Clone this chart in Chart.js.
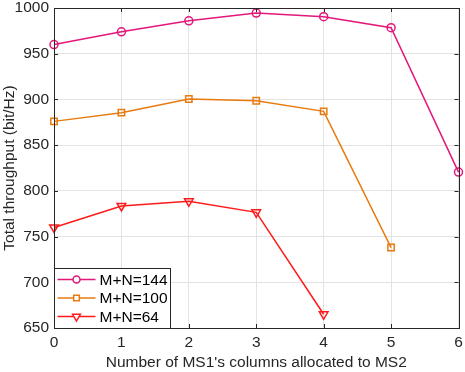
<!DOCTYPE html>
<html>
<head>
<meta charset="utf-8">
<script src="https://cdn.jsdelivr.net/npm/chart.js@4"></script>
<style>
  html, body { margin: 0; padding: 0; background: #fff; }
  #wrap { width: 465px; height: 372px; }
</style>
</head>
<body>
<div id="wrap"><canvas id="chart" width="465" height="372"></canvas></div>
<script>
// datos
const columnas = [0, 1, 2, 3, 4, 5, 6];
const serie144 = [960, 974, 986, 994.5, 990.5, 978.5, 820.5];
const serie100 = [876, 885.5, 900.5, 898.5, 887, 738];
const serie64 = [760, 783.5, 788.5, 776.5, 665];
const etiquetas = ['M+N=144', 'M+N=100', 'M+N=64'];
const yTicks = [650, 700, 750, 800, 850, 900, 950, 1000];

const fuente = "'Liberation Sans', Arial, sans-serif";
const tam = 15.5;

function puntos(vals) {
    return vals.map((v, i) => ({x: columnas[i], y: v}));
}

// caja, ticks hacia adentro y leyenda interna
const cajaPlugin = {
    id: 'caja',
    afterDatasetsDraw(chart) {
        const ctx = chart.ctx;
        const a = chart.chartArea;
        const xs = chart.scales.x, ys = chart.scales.y;
        ctx.save();
        ctx.strokeStyle = '#262626';
        ctx.lineWidth = 1;
        ctx.beginPath();
        xs.ticks.forEach(t => {
            const px = Math.round(xs.getPixelForValue(t.value)) + 0.5;
            ctx.moveTo(px, a.bottom); ctx.lineTo(px, a.bottom - 4);
            ctx.moveTo(px, a.top); ctx.lineTo(px, a.top + 4);
        });
        ys.ticks.forEach(t => {
            const py = Math.round(ys.getPixelForValue(t.value)) + 0.5;
            ctx.moveTo(a.left, py); ctx.lineTo(a.left + 4, py);
            ctx.moveTo(a.right, py); ctx.lineTo(a.right - 4, py);
        });
        ctx.stroke();
        ctx.strokeRect(Math.round(a.left) + 0.5, Math.round(a.top) + 0.5,
            Math.round(a.right - a.left), Math.round(a.bottom - a.top));

        // leyenda
        const lx = Math.round(a.left) + 0.5, lw = 116, lh = 60;
        const ly = Math.round(a.bottom) - lh + 0.5;
        ctx.fillStyle = '#fff';
        ctx.fillRect(lx, ly, lw, lh);
        ctx.strokeRect(lx, ly, lw, lh);
        chart.data.datasets.forEach((ds, i) => {
            const cy = ly + 11 + i * 18.5;
            ctx.strokeStyle = ds.borderColor;
            ctx.lineWidth = 1.5;
            ctx.beginPath();
            ctx.moveTo(lx + 3, cy); ctx.lineTo(lx + 41, cy);
            ctx.stroke();
            ctx.fillStyle = '#fff';
            Chart.helpers.drawPoint(ctx, {
                pointStyle: ds.pointStyle, radius: ds.pointRadius - 0.5,
                rotation: ds.pointRotation || 0, borderWidth: 1.5
            }, lx + 22, cy);
            ctx.fillStyle = '#000';
            ctx.font = tam + 'px ' + fuente;
            ctx.textBaseline = 'middle';
            ctx.fillText(ds.label, lx + 45, cy + 1);
        });
        ctx.restore();
    }
};

const ctx = document.getElementById('chart').getContext('2d');
new Chart(ctx, {
    type: 'line',
    data: {
        datasets: [
            {label: etiquetas[0], data: puntos(serie144), borderColor: '#e3177a',
                pointStyle: 'circle', pointRadius: 4, pointBorderColor: '#e3177a'},
            {label: etiquetas[1], data: puntos(serie100), borderColor: '#e87b10',
                pointStyle: 'rect', pointRadius: 4.5, pointBorderColor: '#e87b10'},
            {label: etiquetas[2], data: puntos(serie64), borderColor: '#ff1a1a',
                pointStyle: 'triangle', pointRotation: 180, pointRadius: 5, pointBorderColor: '#ff1a1a'}
        ].map(d => Object.assign(d, {
            borderWidth: 1.5, pointBorderWidth: 1.5,
            pointBackgroundColor: 'rgba(0,0,0,0)', backgroundColor: 'rgba(0,0,0,0)',
            tension: 0, clip: false
        }))
    },
    options: {
        responsive: false,
        animation: false,
        layout: {padding: {left: 0, right: 0, top: 0, bottom: 0}},
        plugins: {legend: {display: false}, tooltip: {enabled: false}},
        scales: {
            x: {
                type: 'linear', min: 0, max: 6,
                ticks: {stepSize: 1, color: '#262626', font: {size: tam, family: fuente}, padding: 5},
                grid: {color: '#e3e3e3', drawTicks: false},
                border: {display: false},
                title: {display: true, text: "Number of MS1's columns allocated to MS2",
                    color: '#262626', font: {size: tam, family: fuente}, padding: {top: 2, bottom: 0}},
                afterFit(s) { s.height = 44; s.paddingLeft = 0; s.paddingRight = 4; }
            },
            y: {
                type: 'linear', min: 650, max: 1000,
                afterBuildTicks(s) { s.ticks = yTicks.map(v => ({value: v})); },
                ticks: {color: '#262626', font: {size: tam, family: fuente}, padding: 5,
                    callback: v => String(v)},
                grid: {color: '#e3e3e3', drawTicks: false},
                border: {display: false},
                title: {display: true, text: 'Total throughput (bit/Hz)',
                    color: '#262626', font: {size: tam, family: fuente}, padding: {top: 0, bottom: 2}},
                afterFit(s) { s.width = 54; s.paddingTop = 8; s.paddingBottom = 0; }
            }
        }
    },
    plugins: [cajaPlugin]
});
</script>
</body>
</html>
